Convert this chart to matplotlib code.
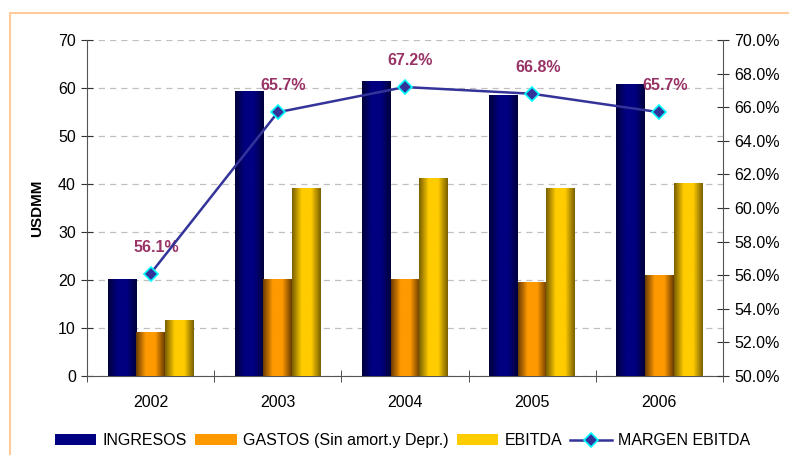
import numpy as np
import matplotlib
matplotlib.use("Agg")
from matplotlib import pyplot as plt
from matplotlib.colors import LinearSegmentedColormap
from matplotlib.patches import Rectangle
from matplotlib.ticker import FuncFormatter, MultipleLocator

plt.rcParams['font.family'] = ['Liberation Sans', 'DejaVu Sans']

years = ['2002', '2003', '2004', '2005', '2006']
ingresos = [20.0, 59.3, 61.4, 58.5, 60.8]
gastos = [9.0, 20.2, 20.2, 19.4, 21.0]
ebitda = [11.5, 39.1, 41.2, 39.1, 40.1]
margen = [56.1, 65.7, 67.2, 66.8, 65.7]

series_names = ['INGRESOS', 'GASTOS (Sin amort.y Depr.)', 'EBITDA', 'MARGEN EBITDA']
# (dark edge, bright center) for the cylinder-like shading
shades = [('#00003a', '#000080'), ('#6b3d00', '#ff9900'), ('#7a6000', '#ffcc00')]

fig = plt.figure(figsize=(7.89, 4.55), dpi=100)
ax = fig.add_axes([0.1103, 0.1736, 0.806, 0.7385])

# peach frame around the chart
fig.patches.append(Rectangle((10 / 789, -0.1), 1.2, (455 - 13) / 455 + 0.1,
                             transform=fig.transFigure, fill=False,
                             edgecolor='#ffcc99', lw=1.5))

x = np.arange(len(years))
w = 0.225
bars_all = []
for i, vals in enumerate([ingresos, gastos, ebitda]):
    dark, bright = shades[i]
    bars = ax.bar(x + (i - 1) * w, vals, w, color=bright, zorder=2, label=series_names[i])
    cmap = LinearSegmentedColormap.from_list('c%d' % i, [dark, bright, bright, dark])
    grad = np.linspace(0, 1, 64).reshape(1, -1)
    for r in bars:
        ax.imshow(grad, cmap=cmap, aspect='auto', zorder=3,
                  extent=(r.get_x(), r.get_x() + r.get_width(), 0, r.get_height()))
    bars_all.append(bars)

ax.set_xlim(-0.5, len(years) - 0.5)
ax.set_ylim(0, 70)
ax.yaxis.set_major_locator(MultipleLocator(10))
ax.grid(axis='y', color='#c0c0c0', linestyle=(0, (5, 4)), lw=0.9, zorder=0)
ax.set_axisbelow(True)
ax.set_xticks(x)
ax.set_xticklabels(years)
ax.set_xticks(np.arange(-0.5, len(years)), minor=True)
ax.tick_params(axis='x', which='major', length=0, pad=14, labelsize=11.5)
ax.tick_params(axis='x', which='minor', length=8, direction='inout', color='#333333')
ax.tick_params(axis='y', length=8, direction='inout', labelsize=11.5, color='#333333', pad=4)
ax.set_ylabel('USDMM', fontsize=11, fontweight='bold', labelpad=10)
for s in ['top', 'right']:
    ax.spines[s].set_visible(False)
for s in ['left', 'bottom']:
    ax.spines[s].set_color('#555555')

ax2 = ax.twinx()
ax2.set_ylim(50, 70)
ax2.yaxis.set_major_locator(MultipleLocator(2))
ax2.yaxis.set_major_formatter(FuncFormatter(lambda v, p: '%.1f%%' % v))
ax2.tick_params(axis='y', length=8, direction='inout', labelsize=11.5, color='#333333', pad=4)
for s in ['top', 'left', 'bottom']:
    ax2.spines[s].set_visible(False)
ax2.spines['right'].set_color('#555555')
line, = ax2.plot(x, margen, color='#333399', lw=1.8, marker='D', markersize=7,
                 markerfacecolor='#333399', markeredgecolor='#00ffff', markeredgewidth=1.2,
                 zorder=5, label=series_names[3])
for xi, m in zip(x, margen):
    ax2.annotate('%.1f%%' % m, (xi, m), xytext=(4, 19), textcoords='offset points',
                 ha='center', va='center', fontsize=11.5, fontweight='bold', color='#993366')

handles = bars_all + [line]
fig.legend(handles, series_names, loc='center', bbox_to_anchor=(0.51, 0.031), ncol=4,
           frameon=False, fontsize=11.5, handlelength=2.6, handleheight=0.7,
           columnspacing=0.5, handletextpad=0.4)

fig.savefig('out.png', dpi=100)
